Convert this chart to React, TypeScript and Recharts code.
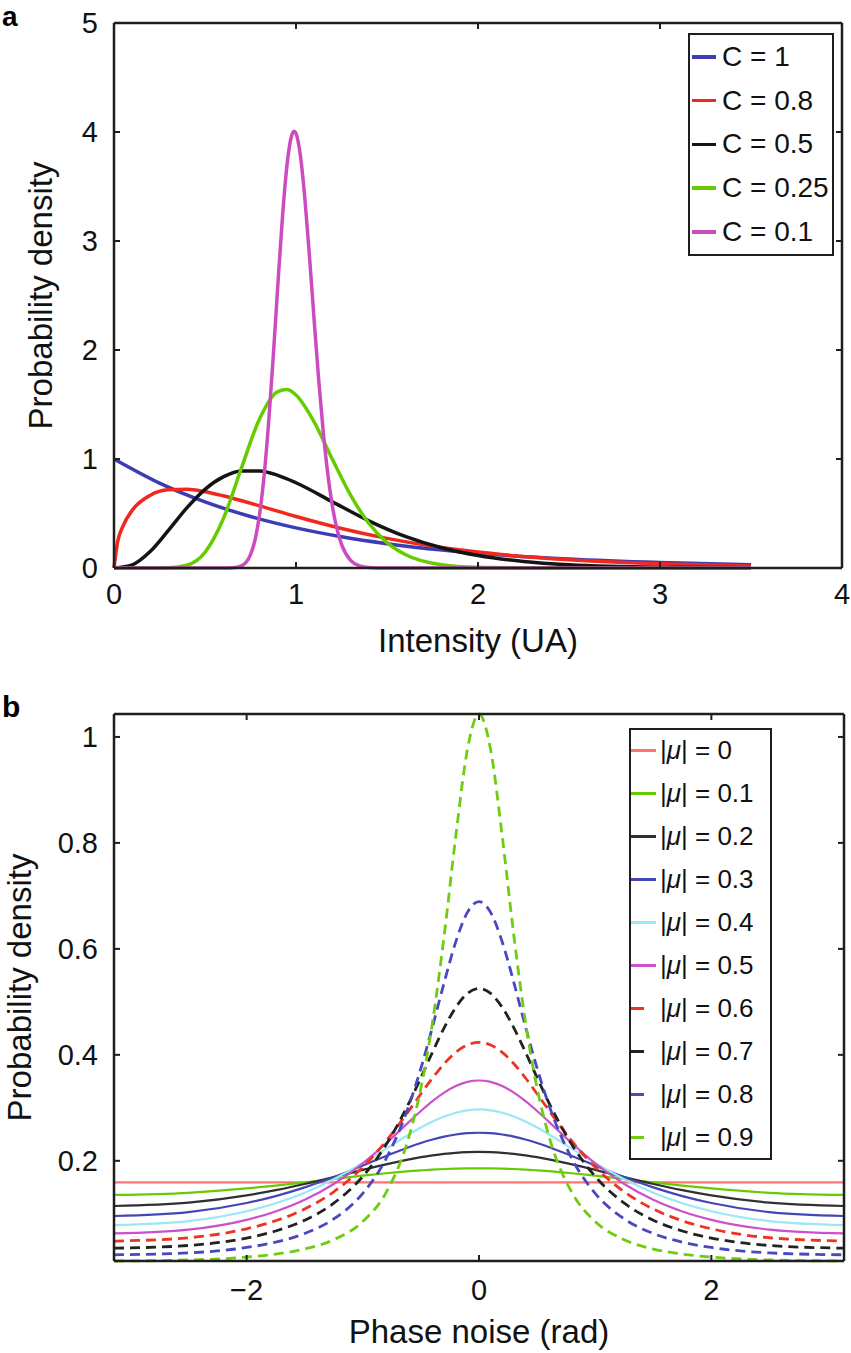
import { Line, LineChart, XAxis, YAxis } from "recharts";

const FONT = '"Liberation Sans", Arial, Helvetica, sans-serif';
const INK = "#1e1e1e";

// ---- panel a: intensity pdf for several speckle contrasts (each curve has its own sample grid) ----
const intensityC1 = [0, 0.25, 0.5, 0.75, 1, 1.25, 1.5, 2, 2.5, 3, 3.5];
const densityC1 = [1, 0.7788, 0.6065, 0.4724, 0.3679, 0.2865, 0.2231, 0.1353, 0.0821, 0.0498, 0.0302];

const intensityC08 = [0, 0.02, 0.05, 0.1, 0.2, 0.3, 0.4, 0.5, 0.6, 0.8, 1, 1.25, 1.5, 2, 2.5, 3, 3.5];
const densityC08 = [0, 0.242, 0.387, 0.529, 0.668, 0.717, 0.722, 0.7, 0.663, 0.57, 0.473, 0.363, 0.272, 0.146, 0.076, 0.039, 0.019];

const intensityC05 = [0, 0.1, 0.2, 0.3, 0.4, 0.5, 0.6, 0.7, 0.8, 0.9, 1, 1.2, 1.4, 1.6, 1.8, 2, 2.25, 2.5, 3, 3.5];
const densityC05 = [0, 0.029, 0.153, 0.347, 0.551, 0.722, 0.836, 0.89, 0.89, 0.85, 0.782, 0.607, 0.433, 0.29, 0.186, 0.115, 0.06, 0.03, 0.007, 0.002];

const intensityC025 = [0, 0.2, 0.3, 0.4, 0.5, 0.6, 0.7, 0.8, 0.9, 0.95, 1, 1.1, 1.2, 1.3, 1.4, 1.5, 1.6, 1.8, 2, 2.25, 2.5, 3, 3.5];
const densityC025 = [0, 0, 0.002, 0.025, 0.144, 0.449, 0.916, 1.37, 1.619, 1.637, 1.587, 1.339, 0.997, 0.669, 0.41, 0.233, 0.124, 0.03, 0.006, 0.001, 0, 0, 0];

const intensityC01 = [0, 0.6, 0.65, 0.7, 0.75, 0.775, 0.8, 0.825, 0.85, 0.875, 0.9, 0.925, 0.95, 0.975, 0.99, 1, 1.025, 1.05, 1.075, 1.1, 1.125, 1.15, 1.175, 1.2, 1.225, 1.25, 1.3, 1.35, 1.4, 1.5, 2, 2.5, 3, 3.5];
const densityC01 = [0, 0, 0.002, 0.02, 0.123, 0.259, 0.493, 0.851, 1.342, 1.941, 2.591, 3.205, 3.688, 3.961, 4.007, 3.987, 3.772, 3.364, 2.837, 2.268, 1.722, 1.245, 0.859, 0.567, 0.359, 0.217, 0.071, 0.02, 0.005, 0, 0, 0, 0, 0];

const intensityTicks = [0, 1, 2, 3, 4];
const densityTicksA = [0, 1, 2, 3, 4, 5];

// ---- panel b: phase noise pdf for several coherence moduli ----
const phase = [-3.1416, -2.5, -2, -1.75, -1.5, -1.25, -1, -0.8, -0.6, -0.5, -0.4, -0.3, -0.2, -0.1, 0, 0.1, 0.2, 0.3, 0.4, 0.5, 0.6, 0.8, 1, 1.25, 1.5, 1.75, 2, 2.5, 3.1416];
const mu00 = [0.1592, 0.1592, 0.1592, 0.1592, 0.1592, 0.1592, 0.1592, 0.1592, 0.1592, 0.1592, 0.1592, 0.1592, 0.1592, 0.1592, 0.1592, 0.1592, 0.1592, 0.1592, 0.1592, 0.1592, 0.1592, 0.1592, 0.1592, 0.1592, 0.1592, 0.1592, 0.1592, 0.1592, 0.1592];
const mu01 = [0.1356, 0.1396, 0.1478, 0.1533, 0.1593, 0.1657, 0.1719, 0.1765, 0.1804, 0.182, 0.1834, 0.1845, 0.1852, 0.1857, 0.1859, 0.1857, 0.1852, 0.1845, 0.1834, 0.182, 0.1804, 0.1765, 0.1719, 0.1657, 0.1593, 0.1533, 0.1478, 0.1396, 0.1356];
const mu02 = [0.1147, 0.1209, 0.1347, 0.1446, 0.1563, 0.1692, 0.1828, 0.1933, 0.2027, 0.2068, 0.2102, 0.213, 0.2151, 0.2163, 0.2167, 0.2163, 0.2151, 0.213, 0.2102, 0.2068, 0.2027, 0.1933, 0.1828, 0.1692, 0.1563, 0.1446, 0.1347, 0.1209, 0.1147];
const mu03 = [0.0958, 0.1032, 0.1204, 0.1334, 0.1498, 0.1693, 0.1911, 0.2091, 0.2261, 0.2336, 0.2402, 0.2457, 0.2497, 0.2522, 0.253, 0.2522, 0.2497, 0.2457, 0.2402, 0.2336, 0.2261, 0.2091, 0.1911, 0.1693, 0.1498, 0.1334, 0.1204, 0.1032, 0.0958];
const mu04 = [0.0786, 0.0863, 0.1049, 0.12, 0.1399, 0.1652, 0.1958, 0.2229, 0.2501, 0.2628, 0.2741, 0.2836, 0.2908, 0.2953, 0.2969, 0.2953, 0.2908, 0.2836, 0.2741, 0.2628, 0.2501, 0.2229, 0.1958, 0.1652, 0.1399, 0.12, 0.1049, 0.0863, 0.0786];
const mu05 = [0.0629, 0.0702, 0.0886, 0.1044, 0.1263, 0.1562, 0.1954, 0.2331, 0.274, 0.294, 0.3126, 0.3286, 0.341, 0.3489, 0.3516, 0.3489, 0.341, 0.3286, 0.3126, 0.294, 0.274, 0.2331, 0.1954, 0.1562, 0.1263, 0.1044, 0.0886, 0.0702, 0.0629];
const mu06 = [0.0485, 0.0548, 0.0717, 0.0868, 0.109, 0.1415, 0.188, 0.2371, 0.2956, 0.3265, 0.3563, 0.3832, 0.4047, 0.4186, 0.4235, 0.4186, 0.4047, 0.3832, 0.3563, 0.3265, 0.2956, 0.2371, 0.188, 0.1415, 0.109, 0.0868, 0.0717, 0.0548, 0.0485];
const mu07 = [0.0351, 0.0402, 0.0543, 0.0675, 0.0879, 0.12, 0.1705, 0.2303, 0.3104, 0.3569, 0.4051, 0.451, 0.4896, 0.5159, 0.5252, 0.5159, 0.4896, 0.451, 0.4051, 0.3569, 0.3104, 0.2303, 0.1705, 0.12, 0.0879, 0.0675, 0.0543, 0.0402, 0.0351];
const mu08 = [0.0226, 0.0262, 0.0364, 0.0465, 0.0628, 0.0903, 0.1386, 0.2038, 0.3063, 0.3747, 0.4532, 0.5363, 0.6131, 0.6688, 0.6893, 0.6688, 0.6131, 0.5363, 0.4532, 0.3747, 0.3063, 0.2038, 0.1386, 0.0903, 0.0628, 0.0465, 0.0364, 0.0262, 0.0226];
const mu09 = [0.0109, 0.0128, 0.0183, 0.0239, 0.0335, 0.051, 0.0854, 0.14, 0.2477, 0.3372, 0.4617, 0.6248, 0.8124, 0.976, 1.0433, 0.976, 0.8124, 0.6248, 0.4617, 0.3372, 0.2477, 0.14, 0.0854, 0.051, 0.0335, 0.0239, 0.0183, 0.0128, 0.0109];

const phaseTicks = [-2, 0, 2];
const densityTicksB = [0.2, 0.4, 0.6, 0.8, 1];

type Frame = { left: number; right: number; top: number; bottom: number };

const seriesA = [
  { name: "C = 1", color: "#3c3cb4", xs: intensityC1, ys: densityC1 },
  { name: "C = 0.8", color: "#f0281e", xs: intensityC08, ys: densityC08 },
  { name: "C = 0.5", color: "#141414", xs: intensityC05, ys: densityC05 },
  { name: "C = 0.25", color: "#66cc00", xs: intensityC025, ys: densityC025 },
  { name: "C = 0.1", color: "#cc4cc0", xs: intensityC01, ys: densityC01 },
];

const seriesB = [
  { key: "m0", label: "0", color: "#ff7373", values: mu00, dashed: false },
  { key: "m1", label: "0.1", color: "#66cc00", values: mu01, dashed: false },
  { key: "m2", label: "0.2", color: "#303030", values: mu02, dashed: false },
  { key: "m3", label: "0.3", color: "#4545b5", values: mu03, dashed: false },
  { key: "m4", label: "0.4", color: "#9ae8f5", values: mu04, dashed: false },
  { key: "m5", label: "0.5", color: "#cc50cc", values: mu05, dashed: false },
  { key: "m6", label: "0.6", color: "#ee3322", values: mu06, dashed: true },
  { key: "m7", label: "0.7", color: "#222222", values: mu07, dashed: true },
  { key: "m8", label: "0.8", color: "#4848c0", values: mu08, dashed: true },
  { key: "m9", label: "0.9", color: "#70cc10", values: mu09, dashed: true },
];

const phaseRows = phase.map((p, i) => {
  const row: Record<string, number> = { phase: p };
  seriesB.forEach((s) => {
    row[s.key] = s.values[i];
  });
  return row;
});

function fmtTick(v: number) {
  return v < 0 ? `\u2212${Math.abs(v)}` : String(v);
}

const tickText = { fontSize: 29, fontFamily: FONT, fill: "#111" };
const axisLine = { stroke: INK, strokeWidth: 2.5 };

function bottomTick(f: Frame, gap: number) {
  return (props: any) => (
    <g>
      <line x1={props.x} x2={props.x} y1={f.bottom} y2={f.bottom - 6} stroke={INK} strokeWidth={2} />
      <text x={props.x} y={f.bottom + gap} textAnchor="middle" {...tickText}>
        {fmtTick(props.payload.value)}
      </text>
    </g>
  );
}

function topTick(f: Frame) {
  return (props: any) => (
    <line x1={props.x} x2={props.x} y1={f.top} y2={f.top + 6} stroke={INK} strokeWidth={2} />
  );
}

function leftTick(f: Frame) {
  return (props: any) => (
    <g>
      <line x1={f.left} x2={f.left + 6} y1={props.y} y2={props.y} stroke={INK} strokeWidth={2} />
      <text x={f.left - 16} y={props.y + 10} textAnchor="end" {...tickText}>
        {fmtTick(props.payload.value)}
      </text>
    </g>
  );
}

function rightTick(f: Frame) {
  return (props: any) => (
    <line x1={f.right} x2={f.right - 6} y1={props.y} y2={props.y} stroke={INK} strokeWidth={2} />
  );
}

function xTitle(text: string, x: number, y: number) {
  return () => (
    <text x={x} y={y} textAnchor="middle" fontSize={33} fontFamily={FONT} fill="#111">
      {text}
    </text>
  );
}

function yTitle(text: string, x: number, y: number) {
  return () => (
    <text x={x} y={y} textAnchor="middle" fontSize={33} fontFamily={FONT} fill="#111" transform={`rotate(-90 ${x} ${y})`}>
      {text}
    </text>
  );
}

const frameA: Frame = { left: 114, right: 842, top: 23, bottom: 568 };
const frameB: Frame = { left: 114, right: 844, top: 34, bottom: 581 };

// the mirrored top/right axes get a 1px box (a zero-sized axis is not drawn)
function chartMargin(f: Frame, bottom: number) {
  return { top: f.top - 1, right: 851 - f.right - 1, bottom, left: f.left - 60 };
}

function PanelA() {
  const f = frameA;
  return (
    <div style={{ position: "absolute", left: 0, top: 0, width: 851, height: 680 }}>
      <LineChart width={851} height={680} margin={chartMargin(f, 52)}>
        <XAxis
          xAxisId="main"
          type="number"
          dataKey="x"
          domain={[0, 4]}
          ticks={intensityTicks}
          interval={0}
          height={60}
          axisLine={axisLine}
          tickLine={false}
          tick={bottomTick(f, 36)}
          label={xTitle("Intensity (UA)", 478, 652)}
        />
        <XAxis xAxisId="top" orientation="top" type="number" dataKey="x" domain={[0, 4]} ticks={intensityTicks} interval={0} height={1} axisLine={axisLine} tickLine={false} tick={topTick(f)} />
        <YAxis
          yAxisId="main"
          type="number"
          domain={[0, 5]}
          ticks={densityTicksA}
          interval={0}
          width={60}
          axisLine={axisLine}
          tickLine={false}
          tick={leftTick(f)}
          label={yTitle("Probability density", 52, 295.5)}
        />
        <YAxis yAxisId="right" orientation="right" type="number" domain={[0, 5]} ticks={densityTicksA} interval={0} width={1} axisLine={axisLine} tickLine={false} tick={rightTick(f)} />
        {/* invisible copy bound to the mirrored axes so that the box and its inner ticks are drawn */}
        <Line
          xAxisId="top"
          yAxisId="right"
          data={intensityC1.map((x, i) => ({ x, y: densityC1[i] }))}
          dataKey="y"
          stroke="none"
          dot={false}
          activeDot={false}
          legendType="none"
          isAnimationActive={false}
        />
        {seriesA.map((s) => (
          <Line
            key={s.name}
            xAxisId="main"
            yAxisId="main"
            data={s.xs.map((x, i) => ({ x, y: s.ys[i] }))}
            dataKey="y"
            name={s.name}
            type="monotone"
            stroke={s.color}
            strokeWidth={3.5}
            dot={false}
            activeDot={false}
            isAnimationActive={false}
          />
        ))}
      </LineChart>
      <svg width={40} height={40} style={{ position: "absolute", left: 0, top: 0 }}>
        <text x={2} y={26} fontSize={28} fontWeight="bold" fontFamily={FONT} fill="#000">a</text>
      </svg>
      <div style={{ position: "absolute", left: 688, top: 33, width: 146, height: 223, border: `2.5px solid ${INK}`, boxSizing: "border-box", background: "#fff" }}>
        {seriesA.map((s, i) => (
          <div key={s.name} style={{ position: "absolute", left: 0, top: 24 - 15 + i * 43.7 - 2, height: 30, display: "flex", alignItems: "center" }}>
            <div style={{ width: 24, height: 3.5, background: s.color, marginLeft: 2 }} />
            <span style={{ marginLeft: 6, fontFamily: FONT, fontSize: 28, lineHeight: "30px", color: "#111", whiteSpace: "nowrap" }}>{s.name}</span>
          </div>
        ))}
      </div>
    </div>
  );
}

function PanelB() {
  const f = frameB;
  return (
    <div style={{ position: "absolute", left: 0, top: 680, width: 851, height: 673 }}>
      <LineChart width={851} height={673} data={phaseRows} margin={chartMargin(f, 32)}>
        <XAxis
          xAxisId="main"
          type="number"
          dataKey="phase"
          domain={[-3.1416, 3.1416]}
          ticks={phaseTicks}
          interval={0}
          height={60}
          axisLine={axisLine}
          tickLine={false}
          tick={bottomTick(f, 39)}
          label={xTitle("Phase noise (rad)", 479, 663)}
        />
        <XAxis xAxisId="top" orientation="top" type="number" dataKey="phase" domain={[-3.1416, 3.1416]} ticks={phaseTicks} interval={0} height={1} axisLine={axisLine} tickLine={false} tick={topTick(f)} />
        <YAxis
          yAxisId="main"
          type="number"
          domain={[0.0109, 1.0433]}
          ticks={densityTicksB}
          interval={0}
          width={60}
          axisLine={axisLine}
          tickLine={false}
          tick={leftTick(f)}
          label={yTitle("Probability density", 31, 307.5)}
        />
        <YAxis yAxisId="right" orientation="right" type="number" domain={[0.0109, 1.0433]} ticks={densityTicksB} interval={0} width={1} axisLine={axisLine} tickLine={false} tick={rightTick(f)} />
        <Line xAxisId="top" yAxisId="right" dataKey="m0" stroke="none" dot={false} activeDot={false} legendType="none" isAnimationActive={false} />
        {seriesB.map((s) => (
          <Line
            key={s.key}
            xAxisId="main"
            yAxisId="main"
            dataKey={s.key}
            type="monotone"
            stroke={s.color}
            strokeWidth={s.dashed ? 2.8 : 2.2}
            strokeDasharray={s.dashed ? "10 6" : undefined}
            dot={false}
            activeDot={false}
            isAnimationActive={false}
          />
        ))}
      </LineChart>
      <svg width={40} height={50} style={{ position: "absolute", left: 0, top: 0 }}>
        <text x={2} y={37} fontSize={30} fontWeight="bold" fontFamily={FONT} fill="#000">b</text>
      </svg>
      <div style={{ position: "absolute", left: 629, top: 48, width: 143, height: 432, border: `2.5px solid ${INK}`, boxSizing: "border-box", background: "#fff" }}>
        {seriesB.map((s, i) => (
          <div key={s.key} style={{ position: "absolute", left: 0, top: 22 - 15 + i * 43 - 2, height: 30, display: "flex", alignItems: "center" }}>
            <div style={{ width: 25, height: 3 }}>
              <div style={{ width: s.dashed ? 13 : 25, height: 3, background: s.color }} />
            </div>
            <span style={{ marginLeft: 4, fontFamily: FONT, fontSize: 26, lineHeight: "30px", color: "#111", whiteSpace: "nowrap" }}>
              |<i>μ</i>| = {s.label}
            </span>
          </div>
        ))}
      </div>
    </div>
  );
}

export default function App() {
  return (
    <div style={{ position: "absolute", left: 0, top: 0, width: 851, height: 1353, background: "#fff", overflow: "hidden" }}>
      <PanelA />
      <PanelB />
    </div>
  );
}
